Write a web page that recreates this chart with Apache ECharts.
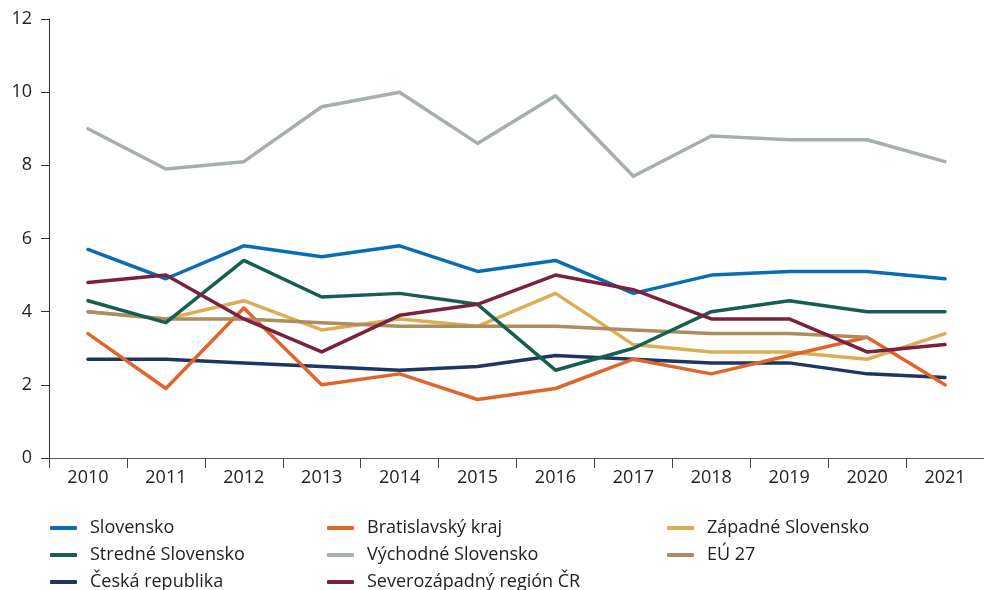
<!DOCTYPE html>
<html><head><meta charset="utf-8">
<script src="https://cdn.jsdelivr.net/npm/echarts@6/dist/echarts.min.js"></script>
<style>html,body{margin:0;padding:0;background:#fff}#c{width:984px;height:590px}</style>
</head><body><div id="c"></div>
<script>
const years = ['2010','2011','2012','2013','2014','2015','2016','2017','2018','2019','2020','2021'];
const yTicks = [0,2,4,6,8,10,12];
const slovensko = [5.7,4.9,5.8,5.5,5.8,5.1,5.4,4.5,5.0,5.1,5.1,4.9];
const bratislavsky = [3.4,1.9,4.1,2.0,2.3,1.6,1.9,2.7,2.3,2.8,3.3,2.0];
const zapadne = [4.0,3.8,4.3,3.5,3.8,3.6,4.5,3.1,2.9,2.9,2.7,3.4];
const stredne = [4.3,3.7,5.4,4.4,4.5,4.2,2.4,3.0,4.0,4.3,4.0,4.0];
const vychodne = [9.0,7.9,8.1,9.6,10.0,8.6,9.9,7.7,8.8,8.7,8.7,8.1];
const eu27 = [4.0,3.8,3.8,3.7,3.6,3.6,3.6,3.5,3.4,3.4,3.3,null];
const ceska = [2.7,2.7,2.6,2.5,2.4,2.5,2.8,2.7,2.6,2.6,2.3,2.2];
const severozapadny = [4.8,5.0,3.8,2.9,3.9,4.2,5.0,4.6,3.8,3.8,2.9,3.1];

const names = ['Slovensko','Bratislavský kraj','Západné Slovensko','Stredné Slovensko','Východné Slovensko','EÚ 27','Česká republika','Severozápadný región ČR'];
const datas = [slovensko,bratislavsky,zapadne,stredne,vychodne,eu27,ceska,severozapadny];
const colors = ['#0a6db3','#e0652b','#dbae55','#165f50','#a6aeb1','#ad8c5f','#1f3562','#7a213f'];
const z = [5,4,3,6,2,4,3,7];

const font = '"Open Sans", Lato, sans-serif';
const chart = echarts.init(document.getElementById('c'));
const legendBase = {
  orient:'vertical', top:519, height:120, padding:0, itemWidth:27, itemHeight:4, itemGap:9,
  icon:'roundRect',
  textStyle:{fontFamily:font, fontSize:18, lineHeight:18, color:'#222', padding:[0,0,0,8]},
  selectedMode:false
};
chart.setOption({
  animation:false,
  grid:{left:49, top:19, width:941, height:439, containLabel:false},
  xAxis:{type:'category', data:years, boundaryGap:true,
    axisLine:{lineStyle:{color:'#555', width:1}},
    axisTick:{show:true, length:10, interval:0, lineStyle:{color:'#444'}},
    axisLabel:{fontFamily:font, fontSize:18, color:'#222', margin:11, interval:0},
    splitLine:{show:false}},
  yAxis:{type:'value', min:yTicks[0], max:yTicks[yTicks.length-1], interval:2,
    axisLine:{show:true, lineStyle:{color:'#333', width:1}},
    axisTick:{show:true, length:8, lineStyle:{color:'#333'}},
    axisLabel:{fontFamily:font, fontSize:18, color:'#222', margin:17},
    splitLine:{show:false}},
  legend:[
    Object.assign({left:50, data:[names[0],names[3],names[6]]}, legendBase),
    Object.assign({left:327, data:[names[1],names[4],names[7]]}, legendBase),
    Object.assign({left:667, data:[names[2],names[5]]}, legendBase)
  ],
  series: names.map((n,i)=>({
    name:n, type:'line', data:datas[i], symbol:'none', z:z[i],
    lineStyle:{color:colors[i], width:3.5, cap:'round', join:'round'},
    itemStyle:{color:colors[i]}
  }))
});
</script></body></html>
